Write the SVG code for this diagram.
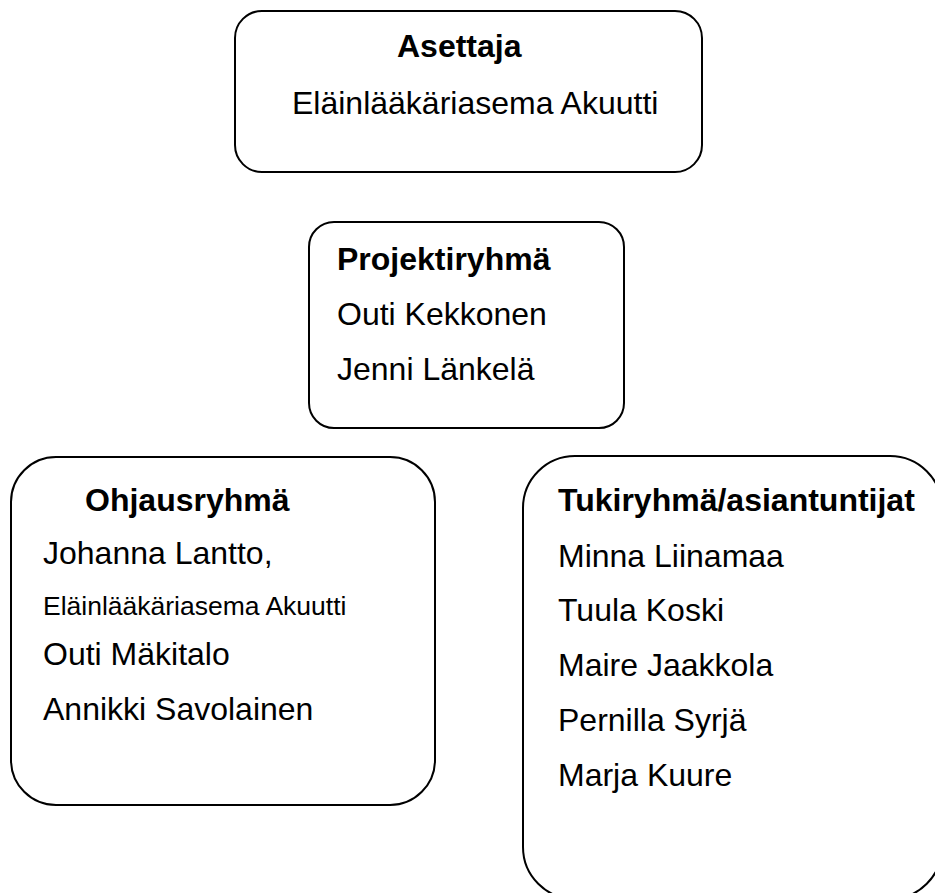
<svg xmlns="http://www.w3.org/2000/svg" width="935" height="893" viewBox="0 0 935 893">
<style>
.box{fill:#fff;stroke:#000;stroke-width:2}
text{font-family:"Liberation Sans",Arial,sans-serif;font-size:32px;fill:#000}
.b{font-weight:bold}
.s{font-size:26.5px}
</style>
<rect width="935" height="893" fill="#fff"/>
<g id="asettaja">
<rect class="box" x="235" y="11" width="467" height="161" rx="27" ry="27"/>
<text class="b" x="397" y="57">Asettaja</text>
<text x="292" y="114">Eläinlääkäriasema Akuutti</text>
</g>
<g id="projektiryhma">
<rect class="box" x="309" y="222" width="315" height="206" rx="25" ry="25"/>
<text class="b" x="337" y="270">Projektiryhmä</text>
<text x="337" y="325">Outi Kekkonen</text>
<text x="337" y="380">Jenni Länkelä</text>
</g>
<g id="ohjausryhma">
<rect class="box" x="11" y="457" width="424" height="348" rx="45" ry="45"/>
<text class="b" x="85" y="511">Ohjausryhmä</text>
<text x="43" y="564">Johanna Lantto,</text>
<text class="s" x="43" y="615">Eläinlääkäriasema Akuutti</text>
<text x="43" y="665">Outi Mäkitalo</text>
<text x="43" y="720">Annikki Savolainen</text>
</g>
<g id="tukiryhma">
<rect class="box" x="523" y="456" width="419" height="443" rx="52" ry="52"/>
<text class="b" x="558" y="511">Tukiryhmä/asiantuntijat</text>
<text x="558" y="567">Minna Liinamaa</text>
<text x="558" y="621">Tuula Koski</text>
<text x="558" y="676">Maire Jaakkola</text>
<text x="558" y="731">Pernilla Syrjä</text>
<text x="558" y="786">Marja Kuure</text>
</g>
<g id="connectors"></g>
</svg>
